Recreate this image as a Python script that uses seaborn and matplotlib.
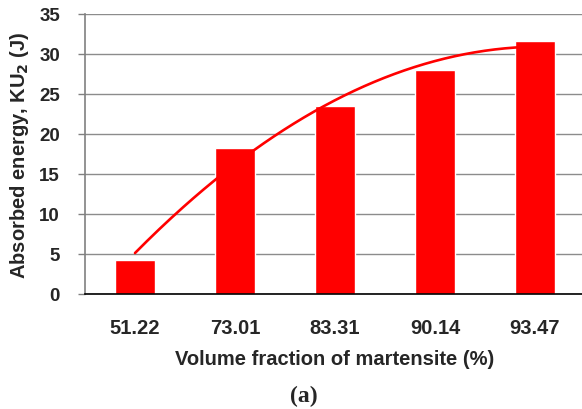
import numpy as np
import pandas as pd
import matplotlib
matplotlib.use("Agg")
import matplotlib.pyplot as plt
import seaborn as sns

# Martensite volume fraction (%) and absorbed impact energy KU2 (J)
martensite = ["51.22", "73.01", "83.31", "90.14", "93.47"]
energy = [4.2, 18.3, 23.5, 28.0, 31.6]

df = pd.DataFrame({"martensite": martensite, "energy": energy})

sns.set_theme(style="white")
plt.rcParams["font.family"] = ["Liberation Sans", "DejaVu Sans"]

fig = plt.figure(figsize=(5.82, 4.10), dpi=100)
ax = fig.add_axes([85 / 582, 115 / 410, 500 / 582, 280 / 410])

sns.barplot(data=df, x="martensite", y="energy", color="#ff0000",
            saturation=1, width=0.4, ax=ax, zorder=2)

# second-order polynomial trendline through the bar heights
xi = np.arange(len(energy))
coef = np.polyfit(xi, energy, 2)
xs = np.linspace(0, len(energy) - 1, 200)
ax.plot(xs, np.polyval(coef, xs), color="#ff0000", lw=1.9, zorder=3)

ax.set_xlim(-0.5, len(energy) - 0.5)
ax.set_ylim(0, 35)
ax.set_yticks(np.arange(0, 36, 5))
ax.yaxis.grid(True, color="#8c8c8c", lw=1.0, zorder=0)
ax.set_axisbelow(True)

for side in ("top", "right"):
    ax.spines[side].set_visible(False)
ax.spines["left"].set_color("#808080")
ax.spines["left"].set_linewidth(1.2)
ax.spines["bottom"].set_color("black")
ax.spines["bottom"].set_linewidth(1.2)

ax.tick_params(axis="y", which="major", left=True, length=5, width=1.0,
               color="#808080", labelsize=13.5, pad=13)
ax.tick_params(axis="x", bottom=False, labelsize=14.5, pad=11)
for lab in ax.get_xticklabels() + ax.get_yticklabels():
    lab.set_fontweight("bold")

ax.set_xlabel("Volume fraction of martensite (%)", fontsize=14.5,
              fontweight="bold", labelpad=9)
ax.set_ylabel("Absorbed energy, KU$_\\mathbf{2}$ (J)", fontsize=14.5,
              fontweight="bold", labelpad=6)

fig.text(304 / 582, 1 - 396 / 410, "(a)", ha="center", va="center",
         fontsize=17, fontweight="bold", family="Liberation Serif")

fig.savefig("out.png", dpi=100)
